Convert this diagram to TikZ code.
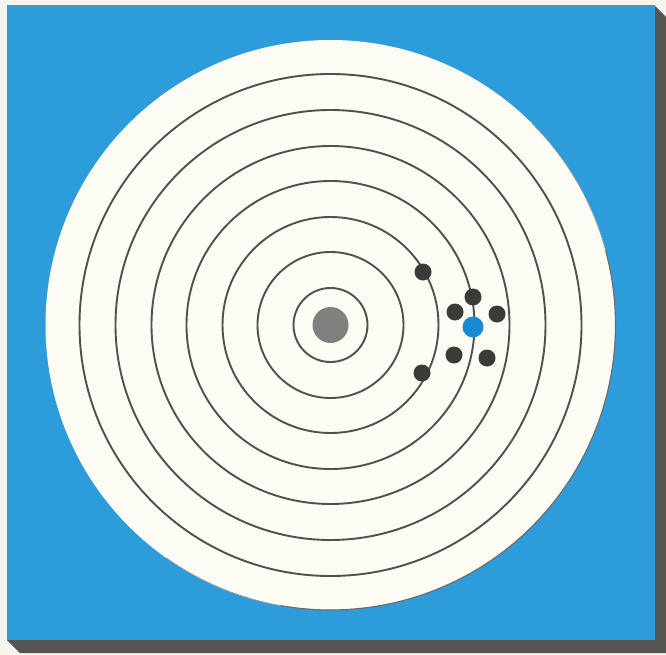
\documentclass[tikz,border=0pt]{standalone}
\definecolor{paper}{RGB}{246,244,236}
\definecolor{bluebg}{RGB}{44,156,218}
\definecolor{shadowc}{RGB}{85,85,82}
\definecolor{disc}{RGB}{252,251,244}
\definecolor{ringc}{RGB}{80,80,78}
\definecolor{dotc}{RGB}{58,58,56}
\definecolor{centerc}{RGB}{128,128,126}
\definecolor{bluedot}{RGB}{24,138,214}
\tikzset{
  ring/.style={draw=ringc, line width=1.9pt},
  dotnode/.style={circle, fill=dotc, inner sep=0pt, minimum size=17pt},
  bluenode/.style={circle, fill=bluedot, inner sep=0pt, minimum size=21pt},
  centernode/.style={circle, fill=centerc, inner sep=0pt, minimum size=36pt}
}
\begin{document}
\begin{tikzpicture}[x=1pt,y=-1pt]
\useasboundingbox (0,0) rectangle (666,655);
\fill[paper] (0,0) rectangle (666,655);
\fill[shadowc] (654,5) -- (666,17) -- (666,653) -- (20,653) -- (7,640) -- cycle;
\fill[bluebg] (7,5) rectangle (655,640);
\coordinate (c) at (330.5,325);
\fill[disc] (c) circle[radius=285];
\draw[ringc!60, line width=0.7pt] ([shift={(-45:285)}]c) arc[start angle=-45, end angle=125, radius=285];
\draw[ringc!85, line width=1.1pt] ([shift={(-15:285)}]c) arc[start angle=-15, end angle=100, radius=285];
\foreach \r in {37,73,108,144,179,215,251} {
  \draw[ring] (c) circle[radius=\r];
}
\node[centernode] (center) at (c) {};
\node[dotnode] (d1) at (423,272) {};
\node[dotnode] (d2) at (422,373) {};
\node[dotnode] (d3) at (473,297) {};
\node[dotnode] (d4) at (455,312) {};
\node[dotnode] (d5) at (497,314) {};
\node[dotnode] (d6) at (454,355) {};
\node[dotnode] (d7) at (487,358) {};
\node[bluenode] (b) at (473,327) {};
\end{tikzpicture}
\end{document}
